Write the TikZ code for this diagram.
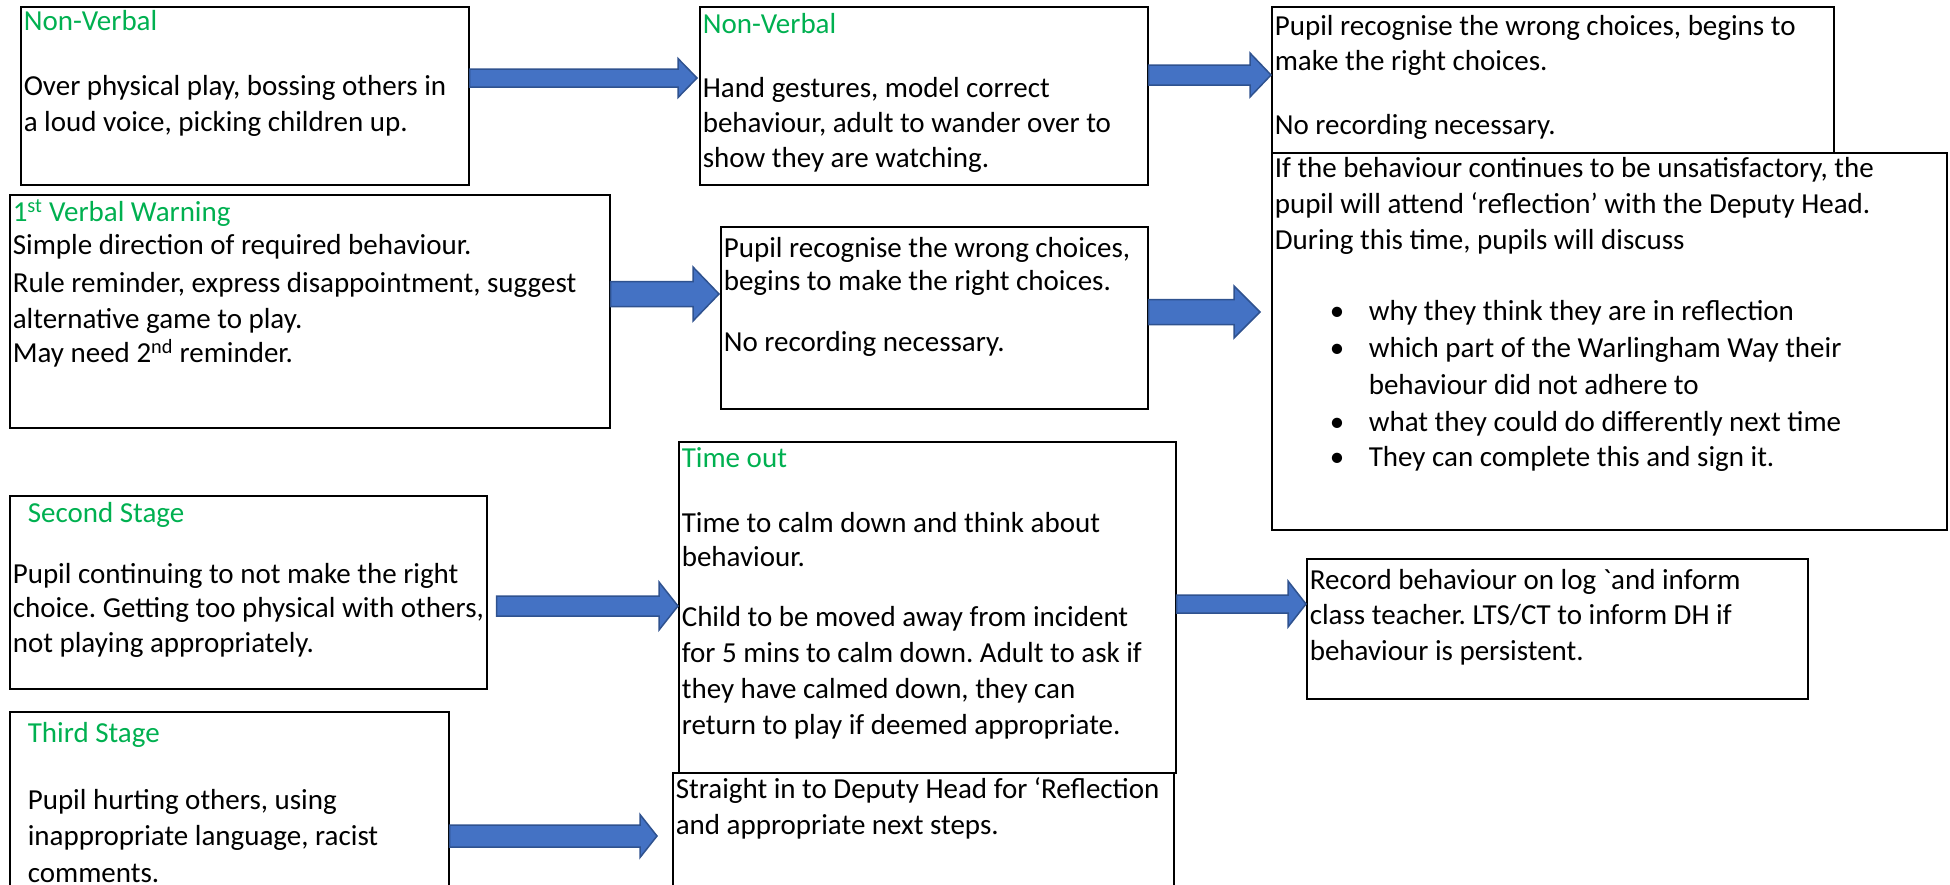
\documentclass[tikz,border=0pt]{standalone}
\usepackage{fontspec}
\newfontfamily\calibri{Carlito}
\usetikzlibrary{calc}
\definecolor{hdgreen}{HTML}{00B050}
\definecolor{arrfill}{HTML}{4472C4}
\definecolor{arredge}{HTML}{2F528F}
\newcommand\hd[1]{\textcolor{hdgreen}{#1}}
\newcommand\fl[1]{\rule{0pt}{#1pt}}
\newcommand\bx[3]{\makebox[#1pt][l]{\parbox[c][#2pt][t]{\dimexpr#1pt+300pt\relax}{\calibri\fontsize{29}{36}\selectfont\frenchspacing\lineskiplimit=-20pt\leftskip=3pt\relax #3}}}
\newcommand\bul{\hspace*{55pt}\makebox[39pt][l]{•}}
\newcommand\ind{\hspace*{94pt}}
\newcommand\barrow[8]{%
  \filldraw[arr] let \p1=(#1.east), \p2=(#2.west) in
  (\x1+#4pt,-#3pt+#6pt) -- (\x2+#5pt-#8pt,-#3pt+#6pt) -- (\x2+#5pt-#8pt,-#3pt+#7pt) --
  (\x2+#5pt,-#3pt) -- (\x2+#5pt-#8pt,-#3pt-#7pt) -- (\x2+#5pt-#8pt,-#3pt-#6pt) --
  (\x1+#4pt,-#3pt-#6pt) -- cycle;}
\begin{document}
\begin{tikzpicture}[x=1pt,y=-1pt,
  box/.style={draw, line width=1.6pt, inner sep=0pt, anchor=north west},
  arr/.style={fill=arrfill, draw=arredge, line width=1.5pt, line join=miter}]
\useasboundingbox (0,0) rectangle (1950,884);
\clip (0,0) rectangle (1950,884);
\node[box] (A) at (20,6) {\bx{448}{178}{\fl{24}\hd{Non-Verbal}\\[29pt]
Over physical play, bossing others in\\
a loud voice, picking children up.}};
\node[box] (B) at (699,6) {\bx{448}{178}{\fl{27}\hd{Non-Verbal}\\[28pt]
Hand gestures, model correct\\[-1pt]
behaviour, adult to wander over to\\[-1pt]
show they are watching.}};
\node[box] (C) at (1271,6) {\bx{562}{146}{\fl{29}Pupil recognise the wrong choices, begins to\\[-1pt]
make the right choices.\\[28pt]
No recording necessary.}};
\node[box] (D) at (9,194) {\bx{600}{233}{\fl{27}\hd{1\textsuperscript{st} Verbal Warning}\\[-3pt]
Simple direction of required behaviour.\\[2pt]
Rule reminder, express disappointment, suggest\\
alternative game to play.\\[-2pt]
May need 2\textsuperscript{nd} reminder.}};
\node[box] (E) at (720,226) {\bx{427}{182}{\fl{31}Pupil recognise the wrong choices,\\[-3pt]
begins to make the right choices.\\[25pt]
No recording necessary.}};
\node[box] (F) at (1271,152) {\bx{675}{377}{\fl{25}If the behaviour continues to be unsatisfactory, the\\
pupil will attend ‘reflection’ with the Deputy Head.\\
During this time, pupils will discuss\\[35pt]
\bul why they think they are in reflection\\[1pt]
\bul which part of the Warlingham Way their\\[1pt]
\ind behaviour did not adhere to\\[1pt]
\bul what they could do differently next time\\[-1pt]
\bul They can complete this and sign it.}};
\node[box] (G) at (9,495) {\bx{477}{193}{\fl{27}\hspace*{15pt}\hd{Second Stage}\\[25pt]
Pupil continuing to not make the right\\[-2pt]
choice. Getting too physical with others,\\[-1pt]
not playing appropriately.}};
\node[box] (H) at (678,441) {\bx{497}{331}{\fl{26}\hd{Time out}\\[29pt]
Time to calm down and think about\\[-2pt]
behaviour.\\[24pt]
Child to be moved away from incident\\
for 5 mins to calm down. Adult to ask if\\
they have calmed down, they can\\
return to play if deemed appropriate.}};
\node[box] (I) at (1306,558) {\bx{501}{140}{\fl{31}Record behaviour on log `and inform\\[-1pt]
class teacher. LTS/CT to inform DH if\\
behaviour is persistent.}};
\node[box] (J) at (9,711) {\bx{439}{200}{\fl{31}\hspace*{15pt}\hd{Third Stage}\\[31pt]
\hspace*{15pt}Pupil hurting others, using\\
\hspace*{15pt}inappropriate language, racist\\[1pt]
\hspace*{15pt}comments.}};
\node[box] (K) at (672,772) {\bx{501}{140}{\fl{26}Straight in to Deputy Head for ‘Reflection\\
and appropriate next steps.}};
\barrow{A}{B}{78}{0}{-2}{9}{19.5}{19}
\barrow{B}{C}{75}{0}{0}{10}{22}{21}
\barrow{D}{E}{294}{0}{-1}{12.5}{27}{26}
\barrow{E}{F}{312}{0}{-11}{12.5}{26}{26}
\barrow{G}{H}{606}{9}{0}{10}{24}{19}
\barrow{H}{I}{604}{0}{0}{9}{23}{18}
\barrow{J}{K}{836}{0}{-15}{11}{21.5}{17}
\end{tikzpicture}
\end{document}
